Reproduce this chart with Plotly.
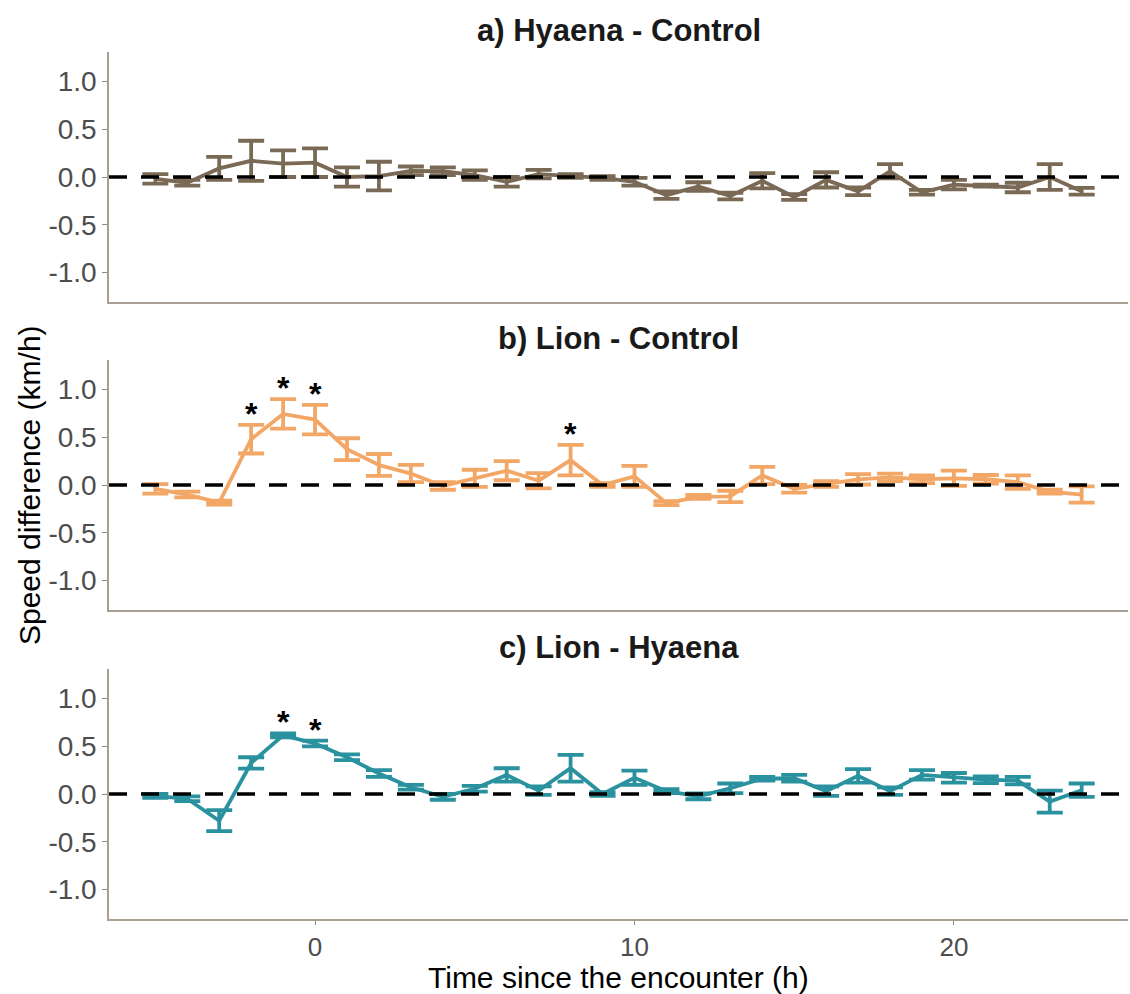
import plotly.graph_objects as go

hours = list(range(-5, 25))

hyaena_control_mean = [-0.02, -0.06, 0.09, 0.17, 0.14, 0.15, 0.00, 0.01, 0.065, 0.06,
                       0.02, -0.05, 0.03, 0.01, -0.01, -0.05, -0.19, -0.10, -0.20, -0.04,
                       -0.21, -0.03, -0.15, 0.06, -0.16, -0.08, -0.09, -0.11, 0.00, -0.15]
hyaena_control_se = [0.05, 0.03, 0.12, 0.21, 0.14, 0.15, 0.10, 0.15, 0.045, 0.04,
                     0.05, 0.05, 0.045, 0.02, 0.02, 0.04, 0.04, 0.045, 0.035, 0.08,
                     0.03, 0.08, 0.04, 0.075, 0.025, 0.05, 0.01, 0.05, 0.135, 0.035]

lion_control_mean = [-0.04, -0.10, -0.185, 0.48, 0.745, 0.685, 0.375, 0.21, 0.12, -0.01,
                     0.07, 0.15, 0.045, 0.26, 0.00, 0.09, -0.19, -0.125, -0.12, 0.10,
                     -0.04, 0.01, 0.06, 0.08, 0.06, 0.07, 0.06, 0.03, -0.07, -0.10]
lion_control_se = [0.05, 0.03, 0.02, 0.15, 0.155, 0.155, 0.115, 0.115, 0.09, 0.04,
                   0.09, 0.10, 0.08, 0.16, 0.02, 0.11, 0.02, 0.02, 0.06, 0.09,
                   0.04, 0.03, 0.055, 0.04, 0.04, 0.08, 0.045, 0.07, 0.02, 0.085]

lion_hyaena_mean = [-0.02, -0.05, -0.28, 0.325, 0.615, 0.53, 0.385, 0.215, 0.07, -0.03,
                    0.055, 0.20, 0.035, 0.27, 0.00, 0.17, 0.03, -0.025, 0.06, 0.16,
                    0.165, 0.03, 0.19, 0.03, 0.20, 0.17, 0.15, 0.14, -0.08, 0.04]
lion_hyaena_se = [0.02, 0.025, 0.11, 0.06, 0.02, 0.03, 0.03, 0.035, 0.025, 0.03,
                  0.03, 0.07, 0.045, 0.14, 0.02, 0.075, 0.02, 0.03, 0.05, 0.02,
                  0.035, 0.05, 0.07, 0.04, 0.05, 0.05, 0.035, 0.04, 0.115, 0.07]

sig_lion_control = [-2, -1, 0, 8]
sig_lion_hyaena = [-1, 0]

panel_titles = ["a) Hyaena - Control", "b) Lion - Control", "c) Lion - Hyaena"]
y_ticks = [-1.0, -0.5, 0.0, 0.5, 1.0]
x_ticks = [0, 10, 20]

colors = ["#7A6A55", "#F2A766", "#2A919F"]
FONT = "Liberation Sans, Arial, sans-serif"
AXIS_COL = "#A89F92"

series = [
    (hyaena_control_mean, hyaena_control_se, []),
    (lion_control_mean, lion_control_se, sig_lion_control),
    (lion_hyaena_mean, lion_hyaena_se, sig_lion_hyaena),
]

# pixel layout
H, W = 994, 1130
mt, mb, ml, mr = 52, 75, 109, 2
plot_h = H - mt - mb
panel_px = [(52, 302), (360, 610), (669, 919)]
domains = [[(H - mb - b) / plot_h, (H - mb - t) / plot_h] for t, b in panel_px]

fig = go.Figure()
annotations = []
for i, (m, se, sig) in enumerate(series):
    ax = "" if i == 0 else str(i + 1)
    fig.add_trace(go.Scatter(
        x=hours, y=m, mode="lines",
        line=dict(color=colors[i], width=3.8),
        error_y=dict(type="data", array=se, visible=True, color=colors[i],
                     thickness=3.8, width=13),
        xaxis="x" + ax, yaxis="y" + ax, showlegend=False, hoverinfo="skip",
    ))
    for h in sig:
        k = hours.index(h)
        annotations.append(dict(
            x=h, y=m[k] + se[k], xref="x" + ax, yref="y" + ax,
            text="<b>*</b>", showarrow=False, xanchor="center", yanchor="bottom",
            yshift=-9, font=dict(family=FONT, size=32, color="black"),
        ))

layout = dict(
    width=W, height=H,
    margin=dict(l=ml, r=mr, t=mt, b=mb),
    paper_bgcolor="white", plot_bgcolor="white",
    font=dict(family=FONT, color="black"),
    showlegend=False,
    shapes=[],
)
for i in range(3):
    ax = "" if i == 0 else str(i + 1)
    last = i == 2
    layout["xaxis" + ax] = dict(
        domain=[0, 1], range=[-6.45, 25.45], anchor="y" + ax,
        showgrid=False, zeroline=False, showline=True, linecolor=AXIS_COL, linewidth=1.5,
        tickvals=x_ticks, ticks="outside" if last else "", ticklen=4, tickcolor="#8a8a8a",
        showticklabels=last, tickfont=dict(family=FONT, size=26, color="#4D4D4D"),
        matches="x" if i else None,
    )
    layout["yaxis" + ax] = dict(
        domain=domains[i], range=[-1.31, 1.31], anchor="x" + ax,
        showgrid=False, zeroline=False, showline=True, linecolor=AXIS_COL, linewidth=1.5,
        tickvals=y_ticks, ticktext=["-1.0", "-0.5", "0.0", "0.5", "1.0"],
        ticks="outside", ticklen=5, tickcolor="#8a8a8a",
        tickfont=dict(family=FONT, size=28, color="#4D4D4D"),
    )
    layout["shapes"].append(dict(
        type="line", xref="x" + ax + " domain", yref="y" + ax,
        x0=0, x1=1, y0=0, y1=0, layer="above",
        line=dict(color="black", width=3.6, dash="18px,14px"),
    ))
    annotations.append(dict(
        text="<b>" + panel_titles[i] + "</b>", xref="paper", yref="paper",
        x=0.5, y=domains[i][1], xanchor="center", yanchor="bottom", yshift=2,
        showarrow=False, font=dict(family=FONT, size=31, color="#1A1A1A"),
    ))
annotations.append(dict(
    text="Time since the encounter (h)", xref="paper", yref="paper",
    x=0.5, y=0, xanchor="center", yanchor="bottom", yshift=-76, borderpad=0,
    showarrow=False, font=dict(family=FONT, size=30, color="black"),
))
annotations.append(dict(
    text="Speed difference (km/h)", xref="paper", yref="paper",
    x=-0.078, y=0.5, xanchor="center", yanchor="middle", textangle=-90,
    showarrow=False, font=dict(family=FONT, size=30, color="black"),
))
layout["annotations"] = annotations
fig.update_layout(**layout)
fig.write_html("out.html", config={"displayModeBar": False},
               post_script="document.body.style.margin='0px';document.body.style.overflow='hidden';")
